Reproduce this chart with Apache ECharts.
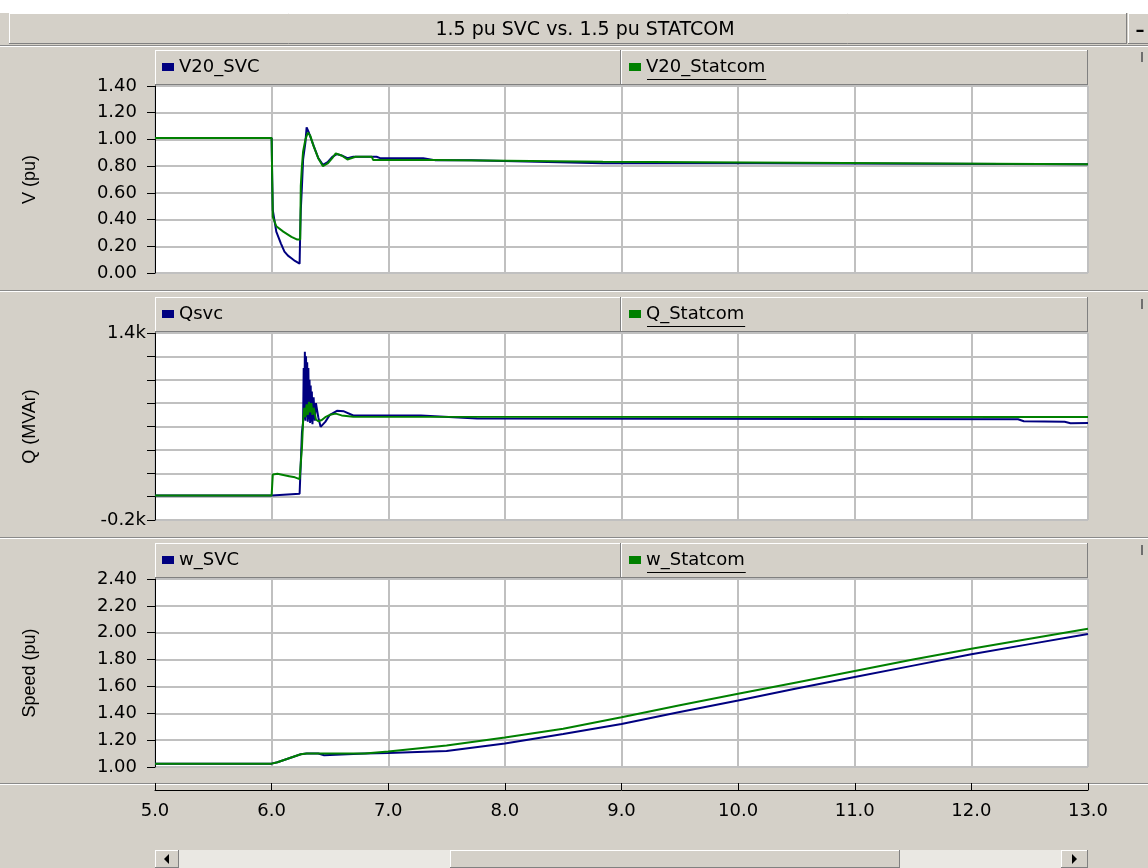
<!DOCTYPE html>
<html>
<head>
<meta charset="utf-8">
<title>1.5 pu SVC vs. 1.5 pu STATCOM</title>
<script src="https://cdn.jsdelivr.net/npm/echarts@6/dist/echarts.min.js"></script>
<style>
  html, body { margin: 0; padding: 0; background: #d4d0c8; }
  #chart { width: 1148px; height: 868px; }
</style>
</head>
<body>
<div id="chart"></div>
<script>
// x axis ticks (s)
var xTicks = [5.0, 6.0, 7.0, 8.0, 9.0, 10.0, 11.0, 12.0, 13.0];

// V20 (pu)
var vSvcT = [5.0, 6.0, 6.005, 6.01, 6.04, 6.08, 6.11, 6.14, 6.17, 6.2, 6.24, 6.245, 6.25, 6.26, 6.27, 6.29, 6.3, 6.31, 6.32, 6.34, 6.37, 6.4, 6.44, 6.48, 6.52, 6.56, 6.6, 6.65, 6.7, 6.75, 6.9, 6.93, 7.3, 7.31, 7.4, 7.71, 7.72, 8.84, 10.16, 10.17, 13.0];
var vSvc  = [1.01, 1.01, 0.70, 0.47, 0.31, 0.22, 0.16, 0.13, 0.11, 0.09, 0.07, 0.30, 0.47, 0.65, 0.85, 0.98, 1.09, 1.08, 1.05, 1.00, 0.93, 0.86, 0.81, 0.83, 0.87, 0.89, 0.88, 0.86, 0.87, 0.87, 0.87, 0.86, 0.86, 0.846, 0.845, 0.845, 0.833, 0.822, 0.822, 0.816, 0.815];
var vStatT = [5.0, 6.0, 6.005, 6.01, 6.04, 6.1, 6.17, 6.22, 6.245, 6.25, 6.26, 6.27, 6.29, 6.31, 6.33, 6.36, 6.4, 6.44, 6.48, 6.52, 6.55, 6.6, 6.65, 6.72, 6.86, 6.87, 7.4, 7.41, 8.84, 8.85, 13.0];
var vStat  = [1.01, 1.01, 0.70, 0.42, 0.35, 0.31, 0.27, 0.25, 0.25, 0.65, 0.80, 0.91, 1.00, 1.05, 1.03, 0.95, 0.86, 0.80, 0.82, 0.86, 0.895, 0.88, 0.85, 0.87, 0.87, 0.846, 0.846, 0.833, 0.833, 0.826, 0.815];

// Q (MVAr)
var qSvcT = [5.0, 6.0, 6.01, 6.24, 6.25, 6.26, 6.27, 6.275, 6.28, 6.285, 6.29, 6.295, 6.30, 6.305, 6.31, 6.315, 6.32, 6.325, 6.33, 6.335, 6.34, 6.345, 6.35, 6.36, 6.37, 6.38, 6.4, 6.42, 6.46, 6.5, 6.56, 6.62, 6.7, 7.28, 7.29, 7.76, 12.4, 12.45, 12.8, 12.85, 13.0];
var qSvc  = [10, 10, 25, 25, 40, 550, 640, 1100, 660, 1240, 650, 1200, 680, 1150, 640, 1100, 660, 1000, 630, 950, 640, 900, 620, 850, 650, 800, 680, 597, 640, 700, 734, 730, 694, 694, 682, 668, 662, 645, 640, 628, 630];
var qStatT = [5.0, 6.0, 6.01, 6.02, 6.05, 6.1, 6.15, 6.2, 6.24, 6.25, 6.26, 6.27, 6.28, 6.29, 6.30, 6.31, 6.32, 6.33, 6.34, 6.35, 6.36, 6.38, 6.4, 6.43, 6.46, 6.5, 6.55, 6.6, 6.7, 13.0];
var qStat  = [10, 10, 190, 200, 195, 185, 175, 165, 150, 150, 420, 650, 760, 680, 790, 700, 810, 720, 800, 700, 760, 660, 645, 655, 680, 700, 710, 695, 684, 682];

// speed (pu)
var wSvcT = [5.0, 6.0, 6.05, 6.1, 6.15, 6.2, 6.25, 6.3, 6.4, 6.41, 6.45, 6.46, 6.8, 7.0, 7.5, 8.0, 8.5, 9.0, 9.5, 10.0, 10.5, 11.0, 11.5, 12.0, 12.5, 13.0];
var wSvc  = [1.025, 1.025, 1.035, 1.05, 1.065, 1.08, 1.095, 1.10, 1.10, 1.088, 1.088, 1.10, 1.10, 1.105, 1.12, 1.175, 1.245, 1.32, 1.41, 1.495, 1.585, 1.67, 1.755, 1.84, 1.915, 1.99];
var wStatT = [5.0, 6.0, 6.05, 6.1, 6.15, 6.2, 6.25, 6.3, 6.8, 7.0, 7.5, 8.0, 8.5, 9.0, 9.5, 10.0, 10.5, 11.0, 11.5, 12.0, 12.5, 13.0];
var wStat  = [1.025, 1.025, 1.035, 1.05, 1.065, 1.08, 1.095, 1.10, 1.10, 1.115, 1.16, 1.22, 1.285, 1.37, 1.46, 1.545, 1.63, 1.715, 1.80, 1.88, 1.955, 2.03];

var SVC_COLOR = '#000080';
var STAT_COLOR = '#008000';
var FACE = '#d4d0c8';

function pairs(ts, vs) {
  return ts.map(function (t, i) { return [t, vs[i]]; });
}

// measure text so the underline under the Statcom legend fits
var ctx = document.createElement('canvas').getContext('2d');
function textW(s, font) {
  ctx.font = font;
  return ctx.measureText(s).width;
}

var gridTops = [86, 333, 579];
var gridHeights = [187, 187, 188];
var legendNames = [['V20_SVC', 'V20_Statcom'], ['Qsvc', 'Q_Statcom'], ['w_SVC', 'w_Statcom']];

var chart = echarts.init(document.getElementById('chart'), null, { renderer: 'canvas' });

// 3D-ish windows boxes
function bevel(x, y, w, h, fill) {
  return [
    { type: 'rect', shape: { x: x, y: y, width: w, height: h }, style: { fill: fill || FACE } },
    { type: 'line', shape: { x1: x, y1: y + 0.5, x2: x + w, y2: y + 0.5 }, style: { stroke: '#ffffff', lineWidth: 1 } },
    { type: 'line', shape: { x1: x + 0.5, y1: y, x2: x + 0.5, y2: y + h }, style: { stroke: '#ffffff', lineWidth: 1 } },
    { type: 'line', shape: { x1: x, y1: y + h - 0.5, x2: x + w, y2: y + h - 0.5 }, style: { stroke: '#808080', lineWidth: 1 } },
    { type: 'line', shape: { x1: x + w - 0.5, y1: y, x2: x + w - 0.5, y2: y + h }, style: { stroke: '#808080', lineWidth: 1 } }
  ];
}

function hsep(y) {
  return [
    { type: 'line', shape: { x1: 0, y1: y + 0.5, x2: 1148, y2: y + 0.5 }, style: { stroke: '#8a8a8a', lineWidth: 1 } },
    { type: 'line', shape: { x1: 0, y1: y + 1.5, x2: 1148, y2: y + 1.5 }, style: { stroke: '#ffffff', lineWidth: 1 } }
  ];
}

var graphics = [];
graphics.push({ type: 'rect', shape: { x: 0, y: 0, width: 1148, height: 13 }, style: { fill: '#ffffff' } });
graphics = graphics.concat(bevel(9, 13, 1118, 31));
graphics.push({ type: 'text', style: { x: 585, y: 30, text: '1.5 pu SVC vs. 1.5 pu STATCOM', fill: '#000', font: '19px "DejaVu Sans"', align: 'center', verticalAlign: 'middle' } });
graphics = graphics.concat(bevel(1128, 13, 24, 31));
graphics.push({ type: 'text', style: { x: 1140, y: 31, text: '\u2013', fill: '#000', font: 'bold 18px "DejaVu Sans"', align: 'center', verticalAlign: 'middle' } });
graphics = graphics.concat(hsep(45), hsep(290), hsep(537), hsep(783));

gridTops.forEach(function (top, i) {
  graphics = graphics.concat(bevel(155, top - 36, 466, 35), bevel(621, top - 36, 467, 35));
  // underline on the 2nd legend item
  var w = textW(legendNames[i][1], '18px "DejaVu Sans"');
  graphics.push({ type: 'line', shape: { x1: 647, y1: top - 6.5, x2: 647 + w, y2: top - 6.5 }, style: { stroke: '#000', lineWidth: 1 }, z: 10 });
  graphics.push({ type: 'rect', shape: { x: 1141, y: top - 34, width: 2, height: 10 }, style: { fill: '#6e6e6e' } });
});

// scroll bar at the bottom
graphics = graphics.concat(bevel(155, 850, 24, 18));
graphics.push({ type: 'polygon', shape: { points: [[164, 859], [169, 854], [169, 864]] }, style: { fill: '#000' } });
graphics.push({ type: 'rect', shape: { x: 179, y: 850, width: 271, height: 18 }, style: { fill: '#eae8e3' } });
graphics = graphics.concat(bevel(450, 850, 450, 18));
graphics.push({ type: 'rect', shape: { x: 900, y: 850, width: 161, height: 18 }, style: { fill: '#eae8e3' } });
graphics = graphics.concat(bevel(1061, 850, 27, 18));
graphics.push({ type: 'polygon', shape: { points: [[1077, 859], [1072, 854], [1072, 864]] }, style: { fill: '#000' } });

function legendAt(name, left, top) {
  return {
    data: [name], left: left, top: top, padding: 0, itemGap: 0,
    icon: 'rect', itemWidth: 12, itemHeight: 8, selectedMode: false,
    textStyle: { fontFamily: 'DejaVu Sans', fontSize: 18, color: '#000' }
  };
}

var legends = [];
gridTops.forEach(function (top, i) {
  legends.push(legendAt(legendNames[i][0], 162, top - 28));
  legends.push(legendAt(legendNames[i][1], 629, top - 28));
});

var gridLine = { show: true, lineStyle: { color: '#c0c0c0', width: 2 } };

var xAxes = [0, 1, 2].map(function (i) {
  var last = i === 2;
  return {
    type: 'value', gridIndex: i, min: xTicks[0], max: xTicks[xTicks.length - 1], interval: 1,
    offset: last ? 23 : 0,
    axisLine: { show: last, onZero: false, lineStyle: { color: '#000', width: 1 } },
    axisTick: { show: last, inside: true, length: 7, lineStyle: { color: '#000' } },
    axisLabel: { show: last, margin: 12, color: '#000', fontFamily: 'DejaVu Sans', fontSize: 18,
      formatter: function (v) { return v.toFixed(1); } },
    splitLine: gridLine
  };
});

function yAxis(i, name, min, max, step, fmt, margin) {
  return {
    type: 'value', gridIndex: i, min: min, max: max, interval: step,
    name: name, nameLocation: 'middle', nameGap: 116, nameRotate: 90,
    nameTextStyle: { fontFamily: 'Liberation Sans', fontSize: 18, color: '#000' },
    axisLine: { show: true, lineStyle: { color: '#000', width: 1 } },
    axisTick: { show: true, length: 8, lineStyle: { color: '#000' } },
    axisLabel: { margin: margin, color: '#000', fontFamily: 'DejaVu Sans', fontSize: 18, formatter: fmt },
    splitLine: gridLine
  };
}

var yAxes = [
  yAxis(0, 'V (pu)', 0, 1.4, 0.2, function (v) { return v.toFixed(2); }, 18),
  yAxis(1, 'Q (MVAr)', -200, 1400, 200, function (v) {
    if (v === 1400) return '1.4k';
    if (v === -200) return '-0.2k';
    return '';
  }, 9),
  yAxis(2, 'Speed (pu)', 1.0, 2.4, 0.2, function (v) { return v.toFixed(2); }, 18)
];

function line(name, idx, data, color) {
  return {
    name: name, type: 'line', xAxisIndex: idx, yAxisIndex: idx, data: data,
    showSymbol: false, symbol: 'none', color: color,
    lineStyle: { color: color, width: 2 }, animation: false
  };
}

chart.setOption({
  animation: false,
  backgroundColor: FACE,
  graphic: { elements: graphics },
  legend: legends,
  grid: gridTops.map(function (top, i) {
    return { left: 155, top: top, width: 933, height: gridHeights[i], show: true,
      backgroundColor: '#ffffff', borderColor: '#a0a0a0', borderWidth: 1 };
  }),
  xAxis: xAxes,
  yAxis: yAxes,
  series: [
    line('V20_SVC', 0, pairs(vSvcT, vSvc), SVC_COLOR),
    line('V20_Statcom', 0, pairs(vStatT, vStat), STAT_COLOR),
    line('Qsvc', 1, pairs(qSvcT, qSvc), SVC_COLOR),
    line('Q_Statcom', 1, pairs(qStatT, qStat), STAT_COLOR),
    line('w_SVC', 2, pairs(wSvcT, wSvc), SVC_COLOR),
    line('w_Statcom', 2, pairs(wStatT, wStat), STAT_COLOR)
  ]
});
</script>
</body>
</html>
